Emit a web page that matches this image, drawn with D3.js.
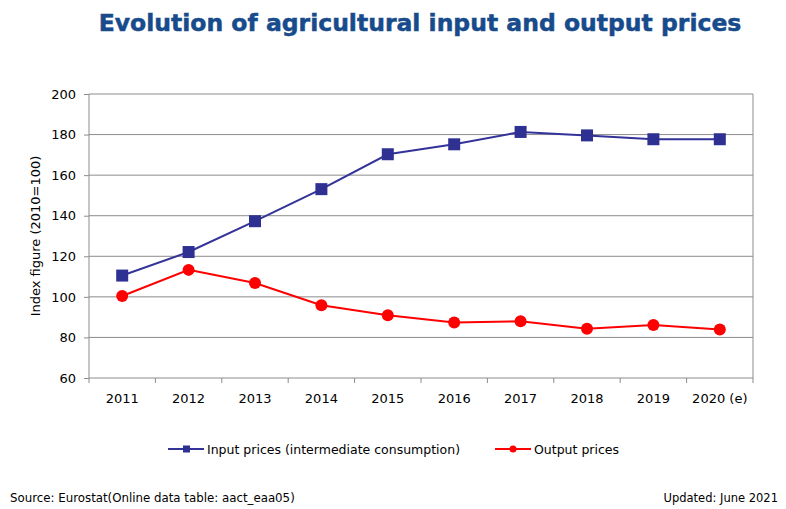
<!DOCTYPE html>
<html>
<head>
<meta charset="utf-8">
<script src="https://cdn.jsdelivr.net/npm/d3@7"></script>
<style>
  html, body { margin: 0; padding: 0; background: #fff; }
  svg { display: block; }
  text { font-family: "DejaVu Sans", Verdana, sans-serif; }
</style>
</head>
<body>
<svg id="chart" width="786" height="509"></svg>
<script>
// Years on the x axis (2020 is an estimate)
const years = ["2011", "2012", "2013", "2014", "2015", "2016", "2017", "2018", "2019", "2020 (e)"];
// Price indices, 2010 = 100
const inputPrices = [110.5, 122.1, 137.3, 153.1, 170.3, 175.2, 181.3, 179.6, 177.7, 177.7];
const outputPrices = [100.4, 113.3, 106.8, 95.9, 90.9, 87.4, 88.0, 84.3, 86.1, 83.9];
const yTicks = [60, 80, 100, 120, 140, 160, 180, 200];

const svg = d3.select("#chart");
const margin = { left: 89, right: 786 - 753, top: 94, bottom: 509 - 378 };
const W = 786, H = 509;

const x = d3.scaleBand().domain(years).range([margin.left, W - margin.right]);
const y = d3.scaleLinear().domain([60, 200]).range([H - margin.bottom, margin.top]);

// Title
svg.append("text")
  .attr("x", 420).attr("y", 31)
  .attr("text-anchor", "middle")
  .attr("font-size", 23.5).attr("font-weight", "bold")
  .attr("fill", "#174b8b")
  .attr("stroke", "#174b8b").attr("stroke-width", 0.5)
  .text("Evolution of agricultural input and output prices");

// Horizontal gridlines
svg.append("g").selectAll("line").data(yTicks.slice(1)).join("line")
  .attr("x1", margin.left).attr("x2", W - margin.right)
  .attr("y1", d => y(d)).attr("y2", d => y(d))
  .attr("stroke", "#8c8c8c").attr("stroke-width", 1);

// Right border of plot area
svg.append("line")
  .attr("x1", W - margin.right).attr("x2", W - margin.right)
  .attr("y1", y(200)).attr("y2", y(60))
  .attr("stroke", "#8c8c8c");

// Y axis
const yAxis = svg.append("g")
  .attr("transform", `translate(${margin.left},0)`)
  .call(d3.axisLeft(y).tickValues(yTicks).tickSize(5).tickPadding(8));
yAxis.selectAll("text").attr("font-size", 13).attr("fill", "#000")
  .style("font-family", "'DejaVu Sans', Verdana, sans-serif");
yAxis.selectAll("line, path").attr("stroke", "#8c8c8c");
yAxis.select(".domain").attr("d", `M0,${y(60)}V${y(200)}`);

// X axis with ticks at band boundaries
const xAxis = svg.append("g")
  .attr("transform", `translate(0,${y(60)})`);
xAxis.append("line")
  .attr("x1", margin.left).attr("x2", W - margin.right)
  .attr("stroke", "#8c8c8c");
const bounds = years.map(d => x(d)).concat([x(years[years.length - 1]) + x.bandwidth()]);
xAxis.selectAll("line.tick").data(bounds).join("line")
  .attr("class", "tick")
  .attr("x1", d => d).attr("x2", d => d)
  .attr("y1", 0).attr("y2", 5)
  .attr("stroke", "#8c8c8c");
xAxis.selectAll("text").data(years).join("text")
  .attr("x", d => x(d) + x.bandwidth() / 2)
  .attr("y", 25)
  .attr("text-anchor", "middle")
  .attr("font-size", 13)
  .text(d => d);

// Y axis title
svg.append("text")
  .attr("transform", `translate(40,${(y(60) + y(200)) / 2}) rotate(-90)`)
  .attr("text-anchor", "middle")
  .attr("font-size", 13)
  .text("Index figure (2010=100)");

const cx = d => x(d) + x.bandwidth() / 2;
const blue = "#333399", blueMark = "#2e3192", red = "#ff0000";

const line = d3.line().x((d, i) => cx(years[i])).y(d => y(d));

svg.append("path").datum(inputPrices)
  .attr("d", line).attr("fill", "none")
  .attr("stroke", blue).attr("stroke-width", 2);
svg.append("path").datum(outputPrices)
  .attr("d", line).attr("fill", "none")
  .attr("stroke", red).attr("stroke-width", 2);

const sq = 12;
svg.append("g").selectAll("rect").data(inputPrices).join("rect")
  .attr("x", (d, i) => cx(years[i]) - sq / 2)
  .attr("y", d => y(d) - sq / 2)
  .attr("width", sq).attr("height", sq)
  .attr("fill", blueMark);
svg.append("g").selectAll("circle").data(outputPrices).join("circle")
  .attr("cx", (d, i) => cx(years[i]))
  .attr("cy", d => y(d))
  .attr("r", 6)
  .attr("fill", red);

// Legend
const legend = [
  { label: "Input prices (intermediate consumption)", color: blue, shape: "square", x: 168 },
  { label: "Output prices", color: red, shape: "circle", x: 495 }
];
const lg = svg.append("g").selectAll("g").data(legend).join("g")
  .attr("transform", d => `translate(${d.x},449)`);
lg.append("line").attr("x1", 0).attr("x2", 36)
  .attr("stroke", d => d.color).attr("stroke-width", 2);
lg.filter(d => d.shape === "square").append("rect")
  .attr("x", 15).attr("y", -3.5).attr("width", 7).attr("height", 7)
  .attr("fill", blueMark);
lg.filter(d => d.shape === "circle").append("circle")
  .attr("cx", 18).attr("cy", 0).attr("r", 3.5).attr("fill", red);
lg.append("text").attr("x", 39).attr("y", 5)
  .attr("font-size", 12.5)
  .text(d => d.label);

// Footer
svg.append("text").attr("x", 10).attr("y", 502)
  .attr("font-size", 11.8)
  .text("Source: Eurostat(Online data table: aact_eaa05)");
svg.append("text").attr("x", 778).attr("y", 502)
  .attr("text-anchor", "end")
  .attr("font-size", 11.5)
  .text("Updated: June 2021");
</script>
</body>
</html>
